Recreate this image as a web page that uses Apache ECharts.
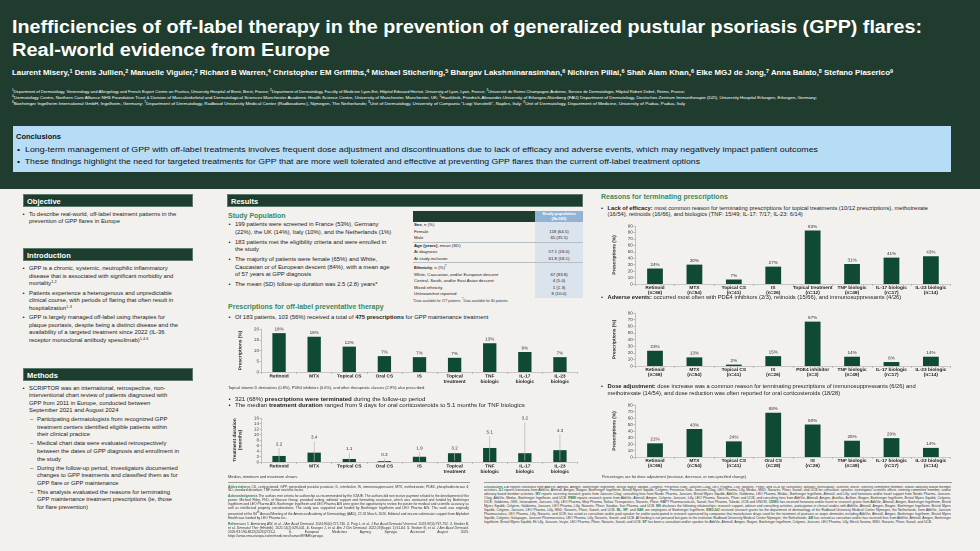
<!DOCTYPE html>
<html>
<head>
<meta charset="utf-8">
<script src="https://cdn.jsdelivr.net/npm/echarts/dist/echarts.min.js"></script>
<style>
  body { margin: 0; }
  #poster { position: relative; width: 980px; height: 551px; overflow: hidden; background: #f2f1ee;
            font-family: Arial, "Liberation Sans", sans-serif; color: #222; }
  .a { position: absolute; }
  .fit { position: absolute; white-space: nowrap; transform-origin: 0 50%; }
  #head { left: 0; top: 0; width: 980px; height: 189px; background: #1f3c2f; }
  .title { color: #fff; font-weight: bold; font-size: 18px; line-height: 22px;
           font-family: "Liberation Sans Narrow", "Arial Narrow", Arial, sans-serif; }
  .auth { color: #fff; font-weight: bold; font-size: 7px; line-height: 8px; }
  .auth sup, .aff sup { font-size: 70%; vertical-align: top; position: relative; top: -1px; }
  .aff { color: #fff; font-size: 4px; line-height: 5px; }
  #concl { left: 13px; top: 126px; width: 938px; height: 46px; background: #b7dcf5; }
  .ctitle { font-weight: bold; font-size: 7.5px; line-height: 9px; color: #111; }
  .cline { font-size: 6.3px; line-height: 8px; color: #111; }
  .bar { position: absolute; height: 13px; background: #1d3d2f; color: #fff; font-weight: bold;
         font-size: 7.5px; line-height: 13px; padding-left: 3px; box-sizing: border-box;
         border: 0.5px solid #5d7a6c; }
  .txt { position: absolute; font-size: 5.9px; line-height: 7.6px; white-space: nowrap; }
  .b { position: relative; padding-left: 6.5px; margin-bottom: 1.6px; }
  .b .d { position: absolute; left: 0; }
  .s { position: relative; padding-left: 8px; margin-top: 1.4px; }
  .s .d { position: absolute; left: 1px; }
  .txt sup { font-size: 65%; vertical-align: top; position: relative; top: -1px; }
  .sub { position: absolute; color: #3b8a60; font-weight: bold; font-size: 7px; line-height: 9px; white-space: nowrap; }
  .foot { position: absolute; font-size: 3.9px; line-height: 5px; white-space: nowrap; color: #333; }
  .chart { position: absolute; }
  #tbl { position: absolute; left: 413px; top: 211px; width: 170px; border-collapse: collapse;
         table-layout: fixed; font-size: 4.3px; color: #222; }
  #tbl td { padding: 0 0 0 1px; height: 6.5px; line-height: 6.5px; white-space: nowrap; overflow: hidden; }
  #tbl td.v { background: #dbe4ed; text-align: center; padding: 0; }
  #tbl .h1 { background: #1e3d30; height: 11px; }
  #tbl .h2 { background: #91b3d5; color: #fff; font-weight: bold; font-size: 4.1px; line-height: 4.6px;
             text-align: center; height: 11px; padding: 0; }
  #tbl tr.g td { border-bottom: 0.5px solid #b9bec3; }
  .small { position: absolute; font-size: 3.35px; line-height: 3.95px; color: #333; text-align: justify; }
  .small b { color: #2f7a53; }
  .small p { margin: 0 0 2px 0; }
  .hr { position: absolute; height: 0; border-top: 0.8px solid #9a9a9a; }
</style>
</head>
<body>
<div id="poster">
  <div id="head" class="a"></div>
  <div class="fit title" data-w="910" style="left:12px;top:16px">Inefficiencies of off-label therapy in the prevention of generalized pustular psoriasis (GPP) flares:</div>
  <div class="fit title" data-w="318" style="left:12px;top:39px">Real-world evidence from Europe</div>
  <div class="fit auth" data-w="881" style="left:12px;top:69px">Laurent Misery,<sup>1</sup> Denis Jullien,<sup>2</sup> Manuelle Viguier,<sup>3</sup> Richard B Warren,<sup>4</sup> Christopher EM Griffiths,<sup>4</sup> Michael Sticherling,<sup>5</sup> Bhargav Lakshminarasimhan,<sup>6</sup> Nichiren Pillai,<sup>6</sup> Shah Alam Khan,<sup>6</sup> Elke MGJ de Jong,<sup>7</sup> Anna Balato,<sup>8</sup> Stefano Piaserico<sup>9</sup></div>
  <div class="fit aff" data-w="673" style="left:12px;top:88.5px"><sup>1</sup>Department of Dermatology, Venereology and Allergology and French Expert Centre on Pruritus, University Hospital of Brest, Brest, France; <sup>2</sup>Department of Dermatology, Faculty of Medicine Lyon-Est, Hôpital Edouard Herriot, University of Lyon, Lyon, France; <sup>3</sup>Université de Reims Champagne-Ardenne, Service de Dermatologie, Hôpital Robert Debré, Reims, France;</div>
  <div class="fit aff" data-w="805" style="left:12px;top:95px"><sup>4</sup>Dermatology Centre, Northern Care Alliance NHS Foundation Trust &amp; Division of Musculoskeletal and Dermatological Sciences Manchester Academic Health Science Centre, University of Manchester, Manchester, UK; <sup>5</sup>Hautklinik, Friedrich-Alexander-University of Erlangen-Nürnberg (FAU) Department of Dermatology, Deutsches Zentrum Immuntherapie (DZI), University Hospital Erlangen, Erlangen, Germany;</div>
  <div class="fit aff" data-w="673" style="left:12px;top:101px"><sup>6</sup>Boehringer Ingelheim International GmbH, Ingelheim, Germany; <sup>7</sup>Department of Dermatology, Radboud University Medical Center (Radboudumc), Nijmegen, The Netherlands; <sup>8</sup>Unit of Dermatology, University of Campania "Luigi Vanvitelli", Naples, Italy; <sup>9</sup>Unit of Dermatology, Department of Medicine, University of Padua, Padua, Italy</div>

  <div id="concl" class="a"></div>
  <div class="fit ctitle" style="left:16px;top:131.5px">Conclusions</div>
  <div class="fit cline" data-w="801" style="left:16.5px;top:146px">•&nbsp; Long-term management of GPP with off-label treatments involves frequent dose adjustment and discontinuations due to lack of efficacy and adverse events, which may negatively impact patient outcomes</div>
  <div class="fit cline" data-w="683" style="left:16.5px;top:158px">•&nbsp; These findings highlight the need for targeted treatments for GPP that are more well tolerated and effective at preventing GPP flares than the current off-label treatment options</div>

  <!-- left column -->
  <div class="bar" style="left:23px;top:194px;width:170px">Objective</div>
  <div class="txt" style="left:22.5px;top:210.5px">
    <div class="b"><span class="d">•</span>To describe real-world, off-label treatment patterns in the<br>prevention of GPP flares in Europe</div>
  </div>
  <div class="bar" style="left:23px;top:248px;width:170px">Introduction</div>
  <div class="txt" style="left:22.5px;top:265.2px">
    <div class="b"><span class="d">•</span>GPP is a chronic, systemic, neutrophilic inflammatory<br>disease that is associated with significant morbidity and<br>mortality<sup>1,2</sup></div>
    <div class="b"><span class="d">•</span>Patients experience a heterogenous and unpredictable<br>clinical course, with periods of flaring that often result in<br>hospitalization<sup>1-3</sup></div>
    <div class="b"><span class="d">•</span>GPP is largely managed off-label using therapies for<br>plaque psoriasis, despite being a distinct disease and the<br>availability of a targeted treatment since 2022 (IL-36<br>receptor monoclonal antibody spesolimab)<sup>1,4-6</sup></div>
  </div>
  <div class="bar" style="left:23px;top:367.5px;width:170px">Methods</div>
  <div class="txt" style="left:22.5px;top:384.5px">
    <div class="b"><span class="d">•</span>SCRIPTOR was an international, retrospective, non-<br>interventional chart review of patients diagnosed with<br>GPP from 2011 in Europe, conducted between<br>September 2021 and August 2024
      <div class="s"><span class="d">–</span>Participating dermatologists from recognized GPP<br>treatment centers identified eligible patients within<br>their clinical practice</div>
      <div class="s"><span class="d">–</span>Medical chart data were evaluated retrospectively<br>between the dates of GPP diagnosis and enrollment in<br>the study</div>
      <div class="s"><span class="d">–</span>During the follow-up period, investigators documented<br>changes to GPP treatments and classified them as for<br>GPP flare or GPP maintenance</div>
      <div class="s"><span class="d">–</span>This analysis evaluated the reasons for terminating<br>GPP maintenance treatment prescriptions (ie, those<br>for flare prevention)</div>
    </div>
  </div>

  <!-- middle column -->
  <div class="bar" style="left:227px;top:194px;width:356px">Results</div>
  <div class="sub" style="left:228px;top:210.8px">Study Population</div>
  <div class="txt" style="left:228.5px;top:221.2px">
    <div class="b" style="margin-bottom:2.3px"><span class="d">•</span>199 patients were screened in France (53%), Germany<br>(22%), the UK (14%), Italy (10%), and the Netherlands (1%)</div>
    <div class="b" style="margin-bottom:2.3px"><span class="d">•</span>183 patients met the eligibility criteria and were enrolled in<br>the study</div>
    <div class="b" style="margin-bottom:2.3px"><span class="d">•</span>The majority of patients were female (65%) and White,<br>Caucasian or of European descent (84%), with a mean age<br>of 57 years at GPP diagnosis</div>
    <div class="b"><span class="d">•</span>The mean (SD) follow-up duration was 2.5 (2.8) years*</div>
  </div>

  <table id="tbl">
    <colgroup><col style="width:122px"><col style="width:48px"></colgroup>
    <tr><td class="h1"></td><td class="h2">Study population<br>(N=183)</td></tr>
    <tr><td><b>Sex</b>, n (%)</td><td class="v"></td></tr>
    <tr><td>Female</td><td class="v" id="r1"></td></tr>
    <tr class="g"><td>Male</td><td class="v" id="r2"></td></tr>
    <tr><td><b>Age (years)</b>, mean (SD)</td><td class="v"></td></tr>
    <tr><td>At diagnosis</td><td class="v" id="r3"></td></tr>
    <tr class="g"><td>At study inclusion</td><td class="v" id="r4"></td></tr>
    <tr><td><b>Ethnicity</b>, n (%)<sup>†</sup></td><td class="v"></td></tr>
    <tr><td>White, Caucasian, and/or European descent</td><td class="v" id="r5"></td></tr>
    <tr><td>Central, South, and/or East Asian descent</td><td class="v" id="r6"></td></tr>
    <tr><td>Mixed ethnicity</td><td class="v" id="r7"></td></tr>
    <tr><td>Unknown/not reported</td><td class="v" id="r8"></td></tr>
  </table>
  <div class="foot" style="left:413px;top:296.5px;font-size:3.4px">*Data available for 177 patients. <sup>†</sup>Data available for 80 patients.</div>

  <div class="sub" style="left:228px;top:301.5px">Prescriptions for off-label preventative therapy</div>
  <div class="txt" style="left:228.5px;top:313.5px">
    <div class="b"><span class="d">•</span>Of 183 patients, 103 (56%) received a total of <b>475 prescriptions</b> for GPP maintenance treatment</div>
  </div>
  <div id="c1" class="chart" style="left:228px;top:322px;width:355px;height:70px"></div>
  <div class="foot" style="left:228px;top:384.5px">Topical vitamin D derivatives (0.8%), PDE4 inhibitors (0.6%), and other therapeutic classes (2.9%) also prescribed.</div>
  <div class="txt" style="left:228.5px;top:395.2px;font-size:6.1px">
    <div class="b"><span class="d">•</span>321 (68%) <b>prescriptions were terminated</b> during the follow-up period</div>
    <div class="b" style="margin-top:-3.6px"><span class="d">•</span>The median <b>treatment duration</b> ranged from 9 days for oral corticosteroids to 5.1 months for TNF biologics</div>
  </div>
  <div id="c2" class="chart" style="left:228px;top:414px;width:355px;height:62px"></div>
  <div class="foot" style="left:228px;top:474px">Median, minimum and maximum shown.</div>

  <div class="hr" style="left:228px;top:482px;width:242px"></div>
  <div class="small" style="left:228px;top:485.5px;width:241px">
    <p><b>Abbreviations</b> CS, corticosteroid; GPP, generalized pustular psoriasis; IL, interleukin; IS, immunosuppressant; MTX, methotrexate; PDE4, phosphodiesterase 4; SD, standard deviation; TNF, tumor necrosis factor.</p>
    <p><b>Acknowledgments</b> The authors met criteria for authorship as recommended by the ICMJE. The authors did not receive payment related to the development of the poster. Michael Riley, PhD, of Beacon Group, provided writing, editorial support and formatting assistance, which was contracted and funded by Boehringer Ingelheim and LEO Pharma A/S. Boehringer Ingelheim and LEO Pharma A/S were given the opportunity to review the poster for medical and scientific accuracy as well as intellectual property considerations. The study was supported and funded by Boehringer Ingelheim and LEO Pharma A/S. This work was originally presented at the 84<sup>th</sup> Annual Meeting of the American Academy of Dermatology (AAD), 27-31 March, 2026. Editorial and encore submission support from Alphabet Health was funded by LEO Pharma Inc.</p>
    <p><b>References 1.</b> Armstrong AW, et al. <i>J Am Acad Dermatol.</i> 2024;90(4):727-730. <b>2.</b> Puig L, et al. <i>J Eur Acad Dermatol Venereol.</i> 2023;37(4):737-752. <b>3.</b> Strober B, et al. <i>Dermatol Ther (Heidelb).</i> 2021;11(2):529-541. <b>4.</b> Krueger J, et al. <i>Am J Clin Dermatol.</i> 2022;23(Suppl. 1):51-64. <b>5.</b> Strober B, et al. <i>J Am Acad Dermatol.</i> 2025;93:190-8622(2025)2725-2. <b>6.</b> European Medicines Agency. Spevigo. Accessed August 2025. https://www.ema.europa.eu/en/medicines/human/EPAR/spevigo.</p>
  </div>

  <!-- right column -->
  <div class="sub" style="left:601px;top:191.5px">Reasons for terminating prescriptions</div>
  <div class="txt" style="left:601px;top:204.5px;font-size:5.75px;line-height:6.9px">
    <div class="b"><span class="d">•</span><b>Lack of efficacy:</b> most common reason for terminating prescriptions for topical treatments (10/12 prescriptions), methotrexate<br>(16/54), retinoids (16/66), and biologics (TNF: 15/49; IL-17: 7/17; IL-23: 6/14)</div>
  </div>
  <div id="c3" class="chart" style="left:600px;top:222px;width:353px;height:76px"></div>
  <div class="txt" style="left:601px;top:293.8px;font-size:5.75px;line-height:6.9px">
    <div class="b"><span class="d">•</span><b>Adverse events:</b> occurred most often with PDE4 inhibitors (2/3), retinoids (15/66), and immunosuppressants (4/26)</div>
  </div>
  <div id="c4" class="chart" style="left:600px;top:309px;width:353px;height:70px"></div>
  <div class="txt" style="left:601px;top:382.5px;font-size:5.75px;line-height:7.9px">
    <div class="b"><span class="d">•</span><b>Dose adjustment:</b> dose increase was a common reason for terminating prescriptions of immunosuppressants (6/26) and<br>methotrexate (14/54), and dose reduction was often reported for oral corticosteroids (18/28)</div>
  </div>
  <div id="c5" class="chart" style="left:600px;top:401px;width:353px;height:71px"></div>
  <div class="foot" style="left:602px;top:473.5px">Percentages are for dose adjustment (increase, decrease, or non-specified change)</div>

  <div class="hr" style="left:484px;top:482px;width:468px"></div>
  <div class="small" style="left:484px;top:485.5px;width:467px;height:43px;overflow:hidden">
    <p><b>Disclosures LM</b> reports honoraria from AbbVie, Almirall, Amgen, Boehringer Ingelheim, Bristol Myers Squibb, Celgene, Fresenius Kabi, Janssen-Cilag, LEO Pharma, Lilly, Novartis, Pfizer, and UCB for consultant, speaker, investigator, scientific officer, steering committee member, and/or advisory board member activities. <b>DJ</b> reports honoraria from AbbVie, Almirall, Amgen, Biogen, Boehringer Ingelheim, Bristol Myers Squibb, Celgene, Fresenius Kabi, Janssen-Cilag, LEO Pharma, Lilly, Medac, MSD, Novartis, Pfizer, Sanofi, and UCB for consultant, speaker, investigator, scientific officer, steering committee member, and/or advisory board member activities. <b>MV</b> reports receiving research grants from Janssen-Cilag; consulting fees from Nordic Pharma, Janssen, Bristol Myers Squibb, AbbVie, Galderma, LEO Pharma, Medac, Boehringer Ingelheim, Almirall, and Lilly; and honoraria and/or travel support from Nordic Pharma, Janssen-Cilag, AbbVie, Medac, Boehringer Ingelheim, and UCB. <b>RBW</b> reports research grants from AbbVie, Almirall, Amgen, Celgene, Janssen, Lilly, LEO Pharma, Novartis, Pfizer and UCB, and consulting fees from AbbVie, Almirall, Amgen, Astellas, Avillion, Biogen, Boehringer Ingelheim, Bristol Myers Squibb, Celgene, DICE, Galderma, GSK, Innovaderm, Janssen, Lilly, LEO Pharma, Meiji Pharma, Nektar Therapeutics, Novartis, Pfizer, RAPT Pharmaceuticals, Sanofi, Sun Pharma, Takeda, UCB and UNION. <b>CEMG</b> has received honoraria and/or travel or research grants from AbbVie, Almirall, Amgen, Boehringer Ingelheim, Bristol Myers Squibb, Celgene, Galderma, Janssen, LEO Pharma, Lilly, Novartis, Pfizer, Sandoz, Sun Pharma, and UCB. <b>MS</b> discloses the following relationships: research support, advisor and consulting activities, participation in clinical studies with AbbVie, Almirall, Amgen, Biogen, Boehringer Ingelheim, Bristol Myers Squibb, Celgene, Janssen, LEO Pharma, Lilly, MSD, Novartis, Pfizer, Sanofi, and UCB. <b>BL</b>, <b>NP</b>, and <b>SAK</b> are employees of Boehringer Ingelheim. <b>EMGJdJ</b> received research grants for the department of dermatology of the Radboud University Medical Center Nijmegen, the Netherlands, from AbbVie, Janssen Pharmaceutica, LEO Pharma, Lilly, Novartis, and UCB; has acted as consultant and/or paid speaker for and/or participated in research sponsored by companies that manufacture drugs used for the treatment of psoriasis or atopic dermatitis including AbbVie, Almirall, Amgen, Boehringer Ingelheim, Bristol Myers Squibb, Celgene, Galapagos, Janssen Pharmaceutica, LEO Pharma, Lilly, Novartis, Sanofi, and UCB. All funding is not personal but goes to the institution Radboud University Medical Center Nijmegen, the Netherlands. <b>AB</b> has served as consultant and/or has received fees from AbbVie, Almirall, Amgen, Boehringer Ingelheim, Bristol Myers Squibb, Eli Lilly, Janssen, Incyte, LEO Pharma, Pfizer, Novartis, Sanofi, and UCB. <b>SP</b> has been a consultant and/or speaker for AbbVie, Almirall, Amgen, Biogen, Boehringer Ingelheim, Celgene, Janssen, LEO Pharma, Lilly, Merck Serono, MSD, Novartis, Pfizer, Sanofi, and UCB.</p>
  </div>
</div>

<script>
// ---- data ----
var tableValues = ["118 (64.5)", "65 (35.5)", "57.1 (18.0)", "61.8 (18.1)", "67 (83.8)", "4 (5.0)", "1 (1.3)", "8 (10.0)"];

var presCats = ["Retinoid", "MTX", "Topical CS", "Oral CS", "IS", "Topical\ntreatment", "TNF\nbiologic", "IL-17\nbiologic", "IL-23\nbiologic"];
var presPct = [18.1, 16.4, 11.8, 7.4, 6.9, 6.6, 13.4, 9.3, 6.9];

var durMedian = [2.2, 3.4, 1.1, 0.3, 1.9, 3.2, 5.1, 3.2, 4.3];
var durMin = [0.1, 0.2, 0.1, 0.0, 0.2, 0.5, 0.3, 0.5, 0.4];
var durMax = [5.0, 7.5, 3.3, 1.2, 3.6, 3.5, 9.3, 14.4, 10.0];

var effCats = ["Retinoid\n(n=66)", "MTX\n(n=54)", "Topical CS\n(n=41)", "IS\n(n=26)", "Topical treatment\n(n=12)", "TNF biologic\n(n=49)", "IL-17 biologic\n(n=17)", "IL-23 biologic\n(n=14)"];
var effPct = [24, 30, 7, 27, 83, 31, 41, 43];

var aeCats = ["Retinoid\n(n=66)", "MTX\n(n=54)", "Topical CS\n(n=41)", "IS\n(n=26)", "PDE4 inhibitor\n(n=3)", "TNF biologic\n(n=49)", "IL-17 biologic\n(n=17)", "IL-23 biologic\n(n=14)"];
var aePct = [23, 13, 2, 15, 67, 14, 6, 14];

var doseCats = ["Retinoid\n(n=66)", "MTX\n(n=54)", "Topical CS\n(n=41)", "Oral CS\n(n=28)", "IS\n(n=26)", "TNF biologic\n(n=49)", "IL-17 biologic\n(n=17)", "IL-23 biologic\n(n=14)"];
var dosePct = [21, 43, 24, 68, 50, 25, 29, 14];

tableValues.forEach(function (v, i) {
  document.getElementById("r" + (i + 1)).textContent = v;
});

var barColor = "#0f4a35";
var axisGray = "#a0a0a0";

function baseOption(grid, cats, yMax, yStep, yName, nameGap, labelLine) {
  return {
    animation: false,
    textStyle: { fontFamily: "Arial" },
    grid: Object.assign({ outerBoundsMode: "none", containLabel: false }, grid),
    xAxis: {
      type: "category",
      data: cats,
      axisLine: { lineStyle: { color: axisGray, width: 0.6 } },
      axisTick: { show: true, length: 2, lineStyle: { color: axisGray, width: 0.6 } },
      axisLabel: { interval: 0, fontSize: 4.8, fontWeight: "bold", color: "#222", lineHeight: labelLine, margin: 1.2 }
    },
    yAxis: {
      type: "value",
      min: 0,
      max: yMax,
      interval: yStep,
      name: yName,
      nameLocation: "middle",
      nameRotate: 90,
      nameGap: nameGap,
      nameTextStyle: { fontSize: 4.8, fontWeight: "bold", color: "#222", lineHeight: 5.4 },
      axisLine: { show: true, lineStyle: { color: axisGray, width: 0.6 } },
      axisTick: { show: true, length: 2, lineStyle: { color: axisGray, width: 0.6 } },
      axisLabel: { fontSize: 4.6, color: "#444", margin: 2.5 },
      splitLine: { show: false }
    }
  };
}

function pctBars(vals, width) {
  return {
    type: "bar",
    data: vals,
    barWidth: width,
    itemStyle: { color: barColor },
    label: {
      show: true, position: "top", distance: 1.5, fontSize: 4.6, color: "#333",
      formatter: function (p) { return Math.round(p.value) + "%"; }
    }
  };
}

function make(id, option) {
  var chart = echarts.init(document.getElementById(id), null, { devicePixelRatio: 2 });
  chart.setOption(option);
}

// prescriptions chart
var o1 = baseOption({ left: 33.5, right: 5.5, top: 7, bottom: 20 }, presCats, 20, 5, "Prescriptions (%)", 18, 5.8);
o1.series = [pctBars(presPct, "38%")];
make("c1", o1);

// treatment duration chart
var o2 = baseOption({ left: 33.5, right: 5.5, top: 4, bottom: 14 }, presCats, 16, 2, "Treatment duration\n(months)", 13, 5.6);
o2.series = [
  { type: "bar", data: durMedian, barWidth: "38%", itemStyle: { color: barColor } },
  {
    type: "custom",
    encode: { x: 0, y: [1, 2] },
    data: durMin.map(function (m, i) { return [i, m, durMax[i], durMedian[i]]; }),
    z: 5,
    renderItem: function (params, api) {
      var lo = api.coord([api.value(0), api.value(1)]);
      var hi = api.coord([api.value(0), api.value(2)]);
      return {
        type: "group",
        children: [
          { type: "line", shape: { x1: lo[0], y1: lo[1], x2: hi[0], y2: hi[1] },
            style: { stroke: "#b4b4b4", lineWidth: 0.7 } },
          { type: "text", x: hi[0], y: hi[1] - 1.5,
            style: { text: String(api.value(3)), fontSize: 4.6, fill: "#333", align: "center", verticalAlign: "bottom", fontFamily: "Arial" } }
        ]
      };
    }
  }
];
make("c2", o2);

// reasons for terminating
var o3 = baseOption({ left: 35.3, right: 2.4, top: 4, bottom: 14 }, effCats, 90, 10, "Prescriptions (%)", 16, 5);
o3.series = [pctBars(effPct, "40%")];
make("c3", o3);

var o4 = baseOption({ left: 35.3, right: 2.4, top: 4, bottom: 13 }, aeCats, 80, 10, "Prescriptions (%)", 16, 5);
o4.series = [pctBars(aePct, "40%")];
make("c4", o4);

var o5 = baseOption({ left: 35.3, right: 2.4, top: 4, bottom: 15 }, doseCats, 80, 10, "Prescriptions (%)", 16, 5);
o5.series = [pctBars(dosePct, "40%")];
make("c5", o5);

// squeeze header lines to the widths used on the poster
document.querySelectorAll("[data-w]").forEach(function (el) {
  var w = el.getBoundingClientRect().width;
  el.style.transform = "scaleX(" + (+el.dataset.w / w) + ")";
});
</script>
</body>
</html>
